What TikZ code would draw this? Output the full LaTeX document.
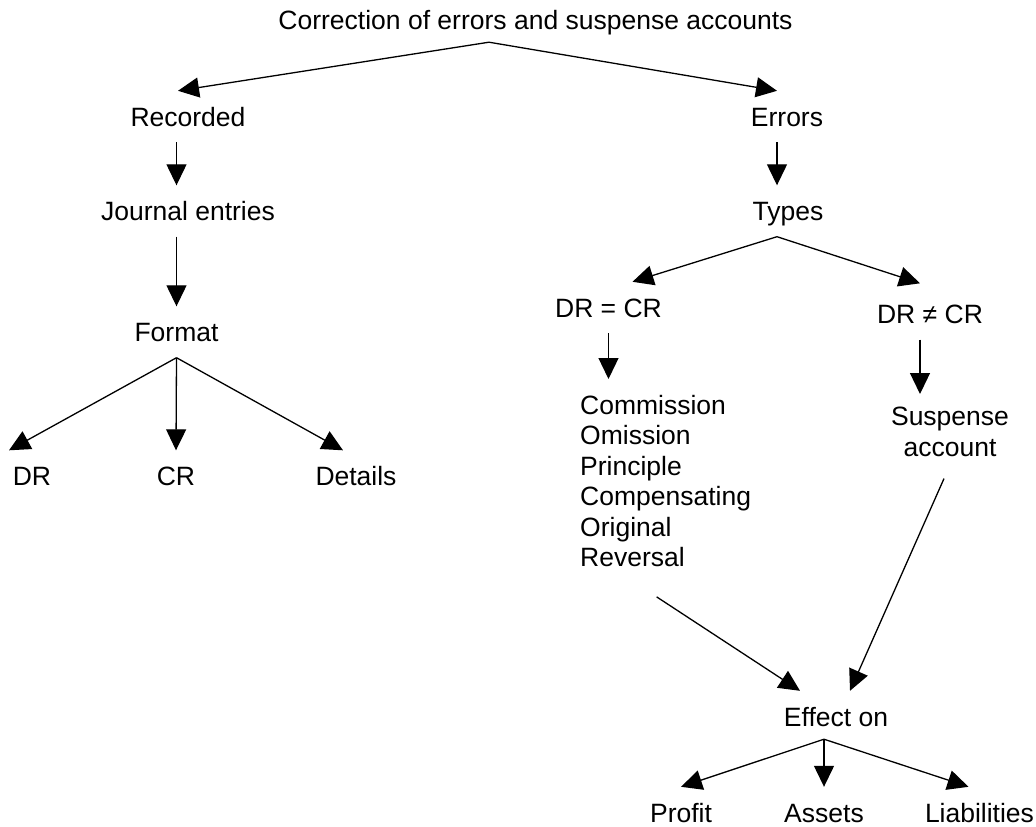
\documentclass[tikz,border=0pt]{standalone}
\usepackage{fontspec}
\setmainfont{Liberation Sans}
\usetikzlibrary{arrows.meta}
\begin{document}
\begin{tikzpicture}[x=1pt,y=-1pt,
  lbl/.style={inner xsep=0pt,inner ysep=16pt,text height=19pt,text depth=0pt,
    font=\fontsize{26.5pt}{30pt}\selectfont},
  multi/.style={inner xsep=0pt,inner ysep=16pt,
    font=\fontsize{26.5pt}{30.4pt}\selectfont},
  arr/.style={line width=1.3pt,-{Triangle[length=21pt,width=20pt]}}]
\useasboundingbox (0,0) rectangle (1036,827);

% top level
\node[lbl] (title) at (535.5,19.5) {Correction of errors and suspense accounts};
\node[lbl] (rec)   at (188,116.5) {Recorded};
\node[lbl] (err)   at (787,116.5) {Errors};

% recording branch
\node[lbl] (jour)  at (188,211) {Journal entries};
\node[lbl] (fmt)   at (176.5,332) {Format};
\node[lbl] (dr)    at (32,476) {DR};
\node[lbl] (cr)    at (176,476) {CR};
\node[lbl] (det)   at (356,476) {Details};

% errors branch
\node[lbl] (types) at (788,211) {Types};
\node[lbl] (eq)    at (608.5,307.5) {DR = CR};
\node[lbl] (neq)   at (930,314) {DR ≠ CR};
\node[multi,align=left,anchor=north west] (list) at (580,379)
  {Commission\\Omission\\Principle\\Compensating\\Original\\Reversal};
\node[multi,align=center,anchor=north] (susp) at (950,391) {Suspense\\account};
\node[lbl] (eff)   at (836,716.5) {Effect on};
\node[lbl] (prof)  at (681,812.5) {Profit};
\node[lbl] (ass)   at (824,812.5) {Assets};
\node[lbl] (liab)  at (979.5,812.5) {Liabilities};

% title fork
\coordinate (tfork) at ([xshift=-46.5pt,yshift=3pt]title.south);
\draw[arr] (tfork) -- ([xshift=-10pt]rec.north);
\draw[arr] (tfork) -- ([xshift=-10pt]err.north);

% recording chain
\draw[arr] (rec.south -| fmt) -- (jour.north -| fmt);
\draw[arr] (jour.south -| fmt) -- (fmt.north);
\draw[arr] (fmt.south) -- ([xshift=-23pt]dr.north);
\draw[arr] (fmt.south) -- (cr.north);
\draw[arr] (fmt.south) -- ([xshift=-13pt]det.north);

% errors chain
\draw[arr] ([xshift=-10pt]err.south) -- ([xshift=-11pt]types.north);
\draw[arr] ([xshift=-11pt]types.south) -- ([xshift=24pt]eq.north);
\draw[arr] ([xshift=-11pt]types.south) -- ([xshift=-10pt,yshift=5pt]neq.north);
\draw[arr] (eq.south) -- (eq.south |- list.north);
\draw[arr] ([xshift=-10pt]neq.south) -- ([xshift=-10pt,yshift=-3pt]neq.south |- susp.north);

% effects
\draw[arr] ([xshift=-9pt,yshift=-14pt]list.south) -- ([xshift=-36pt]eff.north);
\draw[arr] ([xshift=-6pt,yshift=-6pt]susp.south) -- ([xshift=14pt]eff.north);
\draw[arr] ([xshift=-12pt,yshift=3pt]eff.south) -- (prof.north);
\draw[arr] ([xshift=-12pt,yshift=3pt]eff.south) -- (ass.north);
\draw[arr] ([xshift=-12pt,yshift=3pt]eff.south) -- ([xshift=-11pt]liab.north);
\end{tikzpicture}
\end{document}
